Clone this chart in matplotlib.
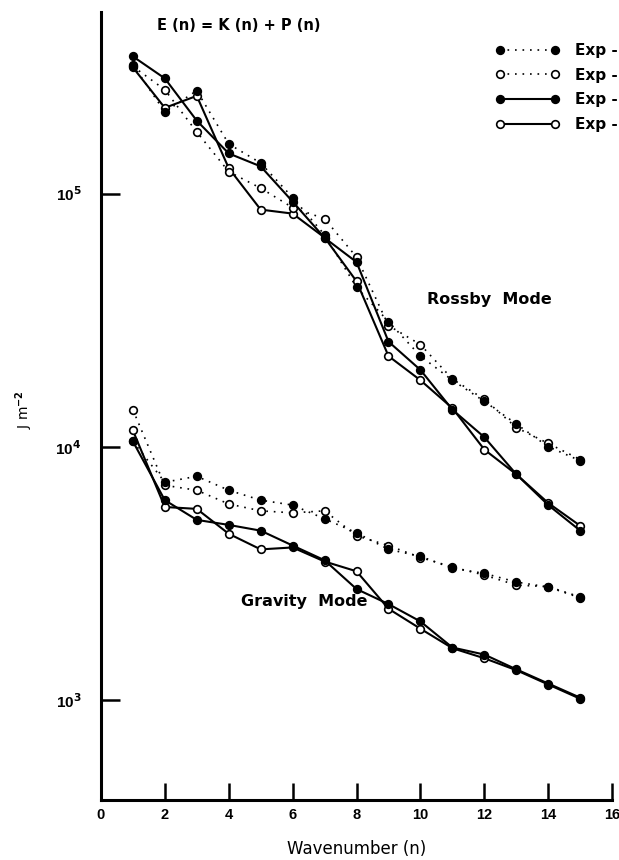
# Espectro de energía E(n) = K(n) + P(n), modos Rossby y de gravedad
import numpy as np
import matplotlib.pyplot as plt

plt.rcParams['font.family'] = ['Liberation Sans', 'DejaVu Sans']
plt.rcParams['font.weight'] = 'bold'

# DATOS (J m^-2)
n = np.arange(1, 16)

# modo Rossby
rossby_a = [323000, 210000, 255000, 157000, 132000, 96400, 68700, 42600, 31200, 22800, 18300, 15100, 12300, 10000, 8800]
rossby_b = [318000, 257000, 175000, 122000, 105000, 88000, 79500, 56100, 30100, 25300, 18500, 15400, 11900, 10300, 8900]
rossby_c = [348000, 285000, 194000, 144000, 128000, 92900, 66800, 53600, 26000, 20100, 14000, 10900, 7780, 5880, 4660]
rossby_d = [315000, 218000, 243000, 126000, 86400, 83300, 67000, 45000, 22800, 18300, 14200, 9740, 7780, 5990, 4870]

# modo de gravedad
gravity_a = [10500, 7240, 7640, 6730, 6150, 5880, 5190, 4570, 3930, 3690, 3310, 3160, 2920, 2790, 2530]
gravity_b = [14000, 7040, 6730, 5940, 5580, 5480, 5580, 4450, 4070, 3650, 3350, 3110, 2840, 2800, 2550]
gravity_c = [10500, 6150, 5140, 4910, 4660, 4070, 3560, 2740, 2390, 2040, 1610, 1510, 1320, 1160, 1020]
gravity_d = [11600, 5780, 5680, 4530, 3930, 4000, 3520, 3220, 2290, 1910, 1600, 1460, 1310, 1150, 1010]

labels = ["Exp -", "Exp -", "Exp -", "Exp -"]

# ESTILOS
dotted = (0, (1, 3.5))
styles = [
    dict(linestyle=dotted, lw=1.2, marker='o', mfc='black', mec='black'),
    dict(linestyle=dotted, lw=1.2, marker='o', mfc='white', mec='black'),
    dict(linestyle='-', lw=1.5, marker='o', mfc='black', mec='black'),
    dict(linestyle='-', lw=1.5, marker='o', mfc='white', mec='black'),
]
wide = ['DejaVu Sans']

fig = plt.figure(figsize=(6.19, 8.6), dpi=100)
ax = fig.add_axes([0.163, 0.070, 0.826, 0.916])

rossby = [rossby_a, rossby_b, rossby_c, rossby_d]
gravity = [gravity_a, gravity_b, gravity_c, gravity_d]

lines = {}
for i in [3, 1, 2, 0]:
    st = styles[i]
    lines[i], = ax.plot(n, rossby[i], color='black', ms=5.5, mew=1.2, **st)
    ax.plot(n, gravity[i], color='black', ms=5.5, mew=1.2, **st)

ax.set_yscale('log')
ax.set_xlim(0, 16)
ax.set_ylim(403, 521000)

ax.set_xticks(np.arange(0, 17, 2))
ax.set_yticks([1e3, 1e4, 1e5])
ax.set_yticklabels(["10$^3$", "10$^4$", "10$^5$"])
ax.minorticks_off()
ax.tick_params(axis='x', direction='in', length=12, width=1.8, pad=6, labelsize=10.5)
ax.tick_params(axis='y', direction='in', length=14, width=1.8, pad=14, labelsize=11)
ax.xaxis.get_major_ticks()[0].tick1line.set_visible(False)

for s in ['top', 'right']:
    ax.spines[s].set_visible(False)
for s in ['left', 'bottom']:
    ax.spines[s].set_linewidth(2.2)

ax.set_xlabel("Wavenumber (n)", fontsize=12, family=wide, labelpad=13)
ax.set_ylabel("J m$^{-2}$", fontsize=10, family=wide)
ax.yaxis.set_label_coords(-0.129, 0.495)

ax.text(0.11, 0.983, "E (n) = K (n) + P (n)", transform=ax.transAxes, fontsize=10.5, family=wide, va='center')
ax.text(10.2, 38000, "Rossby  Mode", fontsize=11.5, family=wide, va='center')
ax.text(4.38, 2440, "Gravity  Mode", fontsize=11.5, family=wide, va='center')

ax.legend([lines[k] for k in range(4)], labels, loc='upper left', bbox_to_anchor=(0.801, 0.950),
          bbox_transform=fig.transFigure, frameon=False, numpoints=2, handlelength=4.2, handletextpad=1.0,
          labelspacing=0.63, prop=dict(family=wide, weight='bold', size=11), borderaxespad=0, borderpad=0)

fig.savefig("out.png", dpi=100)
